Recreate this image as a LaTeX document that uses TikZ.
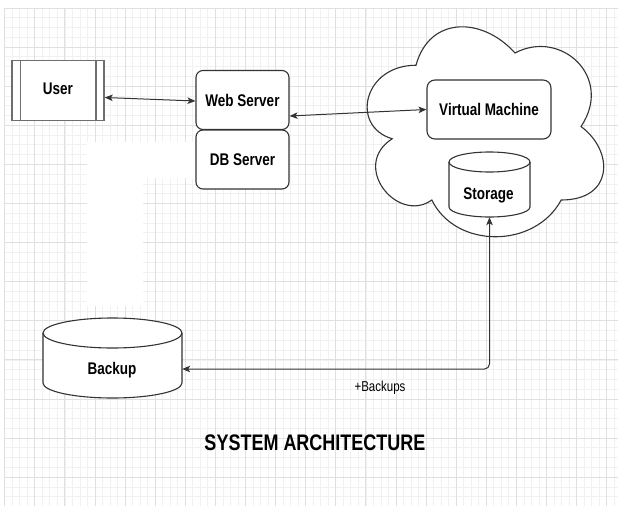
\documentclass[tikz,border=0pt]{standalone}
\usepackage{fontspec}
\usepackage{graphicx}
\setmainfont{Liberation Sans}
\usetikzlibrary{arrows.meta,calc}
\newcommand{\vstretch}[1]{\scalebox{1}[1.25]{#1}}
\definecolor{gridminor}{HTML}{F1F1F1}
\definecolor{gridmajor}{HTML}{E0E0E0}
\definecolor{edgecol}{HTML}{333333}
\definecolor{usercol}{HTML}{6E6E6E}
\begin{document}
\begin{tikzpicture}[x=1pt,y=-1pt,
  boxstyle/.style={draw=edgecol,line width=1.1pt,fill=white,rounded corners=7pt,
    minimum width=93pt,minimum height=59pt,inner sep=0pt},
  lbl/.style={font=\bfseries\fontsize{13.5}{16}\selectfont,inner sep=0pt},
  shapeline/.style={draw=edgecol,line width=1.1pt},
  conn/.style={draw=edgecol,line width=1pt,{Stealth[length=8pt,width=6.5pt,inset=2pt]}-{Stealth[length=8pt,width=6.5pt,inset=2pt]}},
  gminor/.style={draw=gridminor,line width=0.6pt},
  gmajor/.style={draw=gridmajor,line width=0.8pt}]
\useasboundingbox (0,0) rectangle (618,506);
\fill[white] (0,0) rectangle (618,506);
% grid
\foreach \i in {0,...,81} {
  \pgfmathsetmacro{\gx}{4.6+\i*7.525}
  \draw[gminor] (\gx,7.9) -- (\gx,506);
}
\foreach \i in {0,...,50} {
  \pgfmathsetmacro{\gy}{7.9+\i*9.775}
  \draw[gminor] (4.6,\gy) -- (618,\gy);
}
\foreach \i in {0,...,20} {
  \pgfmathsetmacro{\gx}{4.6+\i*30.1}
  \draw[gmajor] (\gx,7.9) -- (\gx,506);
}
\foreach \i in {0,...,12} {
  \pgfmathsetmacro{\gy}{7.9+\i*39.1}
  \draw[gmajor] (4.6,\gy) -- (618,\gy);
}
% white patch
\fill[white] (87,142) -- (197,142) -- (197,178) -- (143,178) -- (143,306) -- (87,306) -- cycle;

% cloud
\draw[shapeline,fill=white] (416,65.25)
  .. controls (363.2,65.25) and (350,126.5) .. (392.24,138.75)
  .. controls (350,165.7) and (397.52,224.5) .. (431.84,200)
  .. controls (455.6,249) and (534.8,249) .. (561.2,200)
  .. controls (614,200) and (614,151) .. (581,126.5)
  .. controls (614,77.5) and (561.2,28.5) .. (515,53)
  .. controls (482,16.25) and (429.2,16.25) .. (416,65.25) -- cycle;

% user
\node[draw=usercol,line width=1.5pt,fill=white,minimum width=92pt,minimum height=60pt,inner sep=0pt] (user) at (58,90.5) {};
\draw[draw=usercol,line width=1.5pt] ([xshift=9pt]user.north west) -- ([xshift=9pt]user.south west);
\draw[draw=usercol,line width=1.5pt] ([xshift=-9pt]user.north east) -- ([xshift=-9pt]user.south east);
\node[lbl] (usertxt) at (58,89) {\vstretch{User}};

% servers
\node[boxstyle] (web) at (242.5,100) {};
\node[lbl] at (242.5,100) {\vstretch{Web Server}};
\node[boxstyle] (db) at (242.5,159.5) {};
\node[lbl] at (242.5,159.5) {\vstretch{DB Server}};

% virtual machine
\node[boxstyle,minimum width=124pt,rounded corners=8pt] (vm) at (489,109.5) {};
\node[lbl] at (489,109.5) {\vstretch{Virtual Machine}};

% storage cylinder
\node[minimum width=81pt,minimum height=65pt,inner sep=0pt] (storage) at (489.5,184.5) {};
\draw[shapeline,fill=white] (449,162) -- (449,207)
  arc[start angle=180,end angle=360,x radius=40.5pt,y radius=10pt] -- (530,162)
  arc[start angle=0,end angle=180,x radius=40.5pt,y radius=10pt] -- cycle;
\draw[shapeline] (449,162) arc[start angle=180,end angle=360,x radius=40.5pt,y radius=10pt];
\node[lbl] at (488.5,195) {\vstretch{Storage}};

% backup cylinder
\node[minimum width=139pt,minimum height=80pt,inner sep=0pt] (backup) at (112.5,358) {};
\draw[shapeline,fill=white] (43,333) -- (43,383)
  arc[start angle=180,end angle=360,x radius=69.5pt,y radius=15pt] -- (182,333)
  arc[start angle=0,end angle=180,x radius=69.5pt,y radius=15pt] -- cycle;
\draw[shapeline] (43,333) arc[start angle=180,end angle=360,x radius=69.5pt,y radius=15pt];
\node[lbl] at (112,370) {\vstretch{Backup}};

% connectors
\draw[conn] ([yshift=-7pt]user.east) -- ([yshift=-1pt]web.west);
\draw[conn] ([yshift=-16pt]web.east) -- (vm.west);
\draw[conn,rounded corners=5pt] (storage.south) |- ([yshift=-11pt]backup.east);

% labels
\node[font=\fontsize{11.5}{14}\selectfont,inner sep=0pt] (bklabel) at (380,388) {\vstretch{+Backups}};
\node[font=\bfseries\fontsize{18}{22}\selectfont,inner sep=0pt] (title) at (315,443) {\vstretch{SYSTEM ARCHITECTURE}};
\end{tikzpicture}
\end{document}
